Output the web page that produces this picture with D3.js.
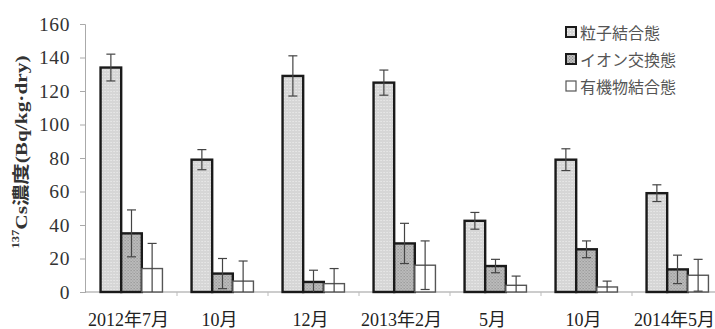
<!DOCTYPE html>
<html>
<head>
<meta charset="utf-8">
<script src="https://cdn.jsdelivr.net/npm/d3@7"></script>
<style>
  html, body { margin: 0; padding: 0; background: #fff; }
  svg { display: block; }
</style>
</head>
<body>
<svg id="chart" width="715" height="329"></svg>
<script>
// Sampling dates
const categories = ["2012年7月", "10月", "12月", "2013年2月", "5月", "10月", "2014年5月"];
// Fractions
const seriesNames = ["粒子結合態", "イオン交換態", "有機物結合態"];
// 137Cs concentration (Bq/kg·dry) and error of each fraction
const particleValues = [134, 79, 129, 125, 42.5, 79, 59];
const particleErrors = [8, 6, 12, 7.5, 5, 6.5, 5];
const ionValues = [35, 11, 6, 29, 15.5, 25.5, 13.5];
const ionErrors = [14, 9, 7, 12, 4, 5, 8.5];
const organicValues = [14, 6.5, 5, 16, 4, 3, 10];
const organicErrors = [15, 12, 9, 14.5, 5.5, 3.5, 9.5];
const yTicks = [0, 20, 40, 60, 80, 100, 120, 140, 160];

const seriesValues = [particleValues, ionValues, organicValues];
const seriesErrors = [particleErrors, ionErrors, organicErrors];

const svg = d3.select("#chart");
const defs = svg.append("defs");

// fine dotted texture for the particle-bound fraction
const p1 = defs.append("pattern").attr("id", "pat-particle")
  .attr("patternUnits", "userSpaceOnUse").attr("width", 3).attr("height", 3);
p1.append("rect").attr("width", 3).attr("height", 3).attr("fill", "#d6d6d6");
p1.append("rect").attr("x", 1).attr("y", 1).attr("width", 1).attr("height", 1).attr("fill", "#f2f2f2");

// denser checker texture for the ion-exchange fraction
const p2 = defs.append("pattern").attr("id", "pat-ion")
  .attr("patternUnits", "userSpaceOnUse").attr("width", 3).attr("height", 3);
p2.append("rect").attr("width", 3).attr("height", 3).attr("fill", "#c4c4c4");
p2.append("rect").attr("x", 0).attr("y", 0).attr("width", 1.2).attr("height", 1.2).attr("fill", "#8a8a8a");
p2.append("rect").attr("x", 1.5).attr("y", 1.5).attr("width", 1.2).attr("height", 1.2).attr("fill", "#8a8a8a");

const fills = ["url(#pat-particle)", "url(#pat-ion)", "#ffffff"];
const strokes = ["#1a1a1a", "#1a1a1a", "#555"];
const strokeWidths = [2.4, 2.4, 1.4];

const x0 = 85, yBase = 292, yTop = 24;

const y = d3.scaleLinear().domain([0, 160]).range([yBase, yTop]);
const x = d3.scaleBand().domain(d3.range(categories.length))
  .range([86, 723]).paddingInner(0.32).paddingOuter(0.16);
const xs = d3.scaleBand().domain(d3.range(seriesNames.length))
  .range([0, x.bandwidth()]).padding(0);

// y axis
const yAxis = d3.axisLeft(y).tickValues(yTicks).tickSize(5).tickPadding(10);
const gy = svg.append("g").attr("transform", `translate(${x0},0)`).call(yAxis);
gy.select(".domain").attr("stroke", "#aaa").attr("stroke-width", 1);
gy.selectAll(".tick line").attr("stroke", "#aaa");
gy.selectAll(".tick text")
  .attr("font-family", "'Liberation Serif', 'DejaVu Serif', serif")
  .attr("font-size", 19.5).attr("letter-spacing", 0.6).attr("fill", "#333");

// x axis line with small separators between groups
svg.append("line").attr("x1", x0).attr("x2", 715)
  .attr("y1", yBase).attr("y2", yBase).attr("stroke", "#999").attr("stroke-width", 1);
const sep = x.step() * x.paddingInner() / 2;
svg.append("g").selectAll("line")
  .data(d3.range(categories.length - 1))
  .join("line")
  .attr("x1", i => x(i) + x.bandwidth() + sep)
  .attr("x2", i => x(i) + x.bandwidth() + sep)
  .attr("y1", yBase).attr("y2", yBase + 4)
  .attr("stroke", "#bbb");

// category labels
svg.append("g").selectAll("text")
  .data(categories)
  .join("text")
  .attr("x", (d, i) => x(i) + x.bandwidth() / 2 - 3)
  .attr("y", 326)
  .attr("text-anchor", "middle")
  .attr("font-family", "'Liberation Serif', 'Noto Sans CJK JP', serif")
  .attr("font-size", 18).attr("fill", "#222")
  .text(d => d);

// bars
const groups = svg.append("g").selectAll("g")
  .data(categories)
  .join("g")
  .attr("transform", (d, i) => `translate(${x(i)},0)`);

seriesNames.forEach((name, s) => {
  groups.append("rect")
    .attr("x", (d, i) => xs(s))
    .attr("y", (d, i) => y(seriesValues[s][i]))
    .attr("width", xs.bandwidth())
    .attr("height", (d, i) => yBase - y(seriesValues[s][i]))
    .attr("fill", fills[s])
    .attr("stroke", strokes[s])
    .attr("stroke-width", strokeWidths[s]);
});

// error bars
seriesNames.forEach((name, s) => {
  const cx = i => xs(s) + xs.bandwidth() / 2;
  const hi = i => y(seriesValues[s][i] + seriesErrors[s][i]);
  const lo = i => y(Math.max(0, seriesValues[s][i] - seriesErrors[s][i]));
  const eg = groups.append("g").attr("stroke", "#444").attr("stroke-width", 1.2);
  eg.append("line")
    .attr("x1", (d, i) => cx(i)).attr("x2", (d, i) => cx(i))
    .attr("y1", (d, i) => hi(i)).attr("y2", (d, i) => lo(i));
  eg.append("line")
    .attr("x1", (d, i) => cx(i) - 4.5).attr("x2", (d, i) => cx(i) + 4.5)
    .attr("y1", (d, i) => hi(i)).attr("y2", (d, i) => hi(i));
  eg.append("line")
    .attr("x1", (d, i) => cx(i) - 4.5).attr("x2", (d, i) => cx(i) + 4.5)
    .attr("y1", (d, i) => lo(i)).attr("y2", (d, i) => lo(i))
    .attr("display", (d, i) => seriesValues[s][i] - seriesErrors[s][i] > 0 ? null : "none");
});

// y axis title
const title = svg.append("text")
  .attr("transform", "translate(21,152) rotate(-90)")
  .attr("text-anchor", "middle")
  .attr("dominant-baseline", "central")
  .attr("textLength", 193).attr("lengthAdjust", "spacingAndGlyphs")
  .attr("font-family", "'Liberation Serif', 'Noto Sans CJK JP', serif")
  .attr("font-size", 17).attr("font-weight", "bold").attr("fill", "#333");
title.append("tspan").attr("font-size", 10).attr("baseline-shift", "super").text("137");
title.append("tspan").text("Cs濃度(Bq/kg·dry)");

// legend
const legend = svg.append("g").attr("transform", "translate(566,32)");
const rows = legend.selectAll("g").data(seriesNames).join("g")
  .attr("transform", (d, i) => `translate(0,${i * 27})`);
rows.append("rect")
  .attr("x", 0).attr("y", -5).attr("width", 10).attr("height", 10)
  .attr("fill", (d, i) => fills[i])
  .attr("stroke", (d, i) => strokes[i])
  .attr("stroke-width", (d, i) => i < 2 ? 2 : 1.2);
rows.append("text")
  .attr("x", 14).attr("y", 0)
  .attr("dominant-baseline", "central")
  .attr("font-family", "'Noto Sans CJK JP', sans-serif")
  .attr("font-size", 16).attr("fill", "#555")
  .text(d => d);
</script>
</body>
</html>
